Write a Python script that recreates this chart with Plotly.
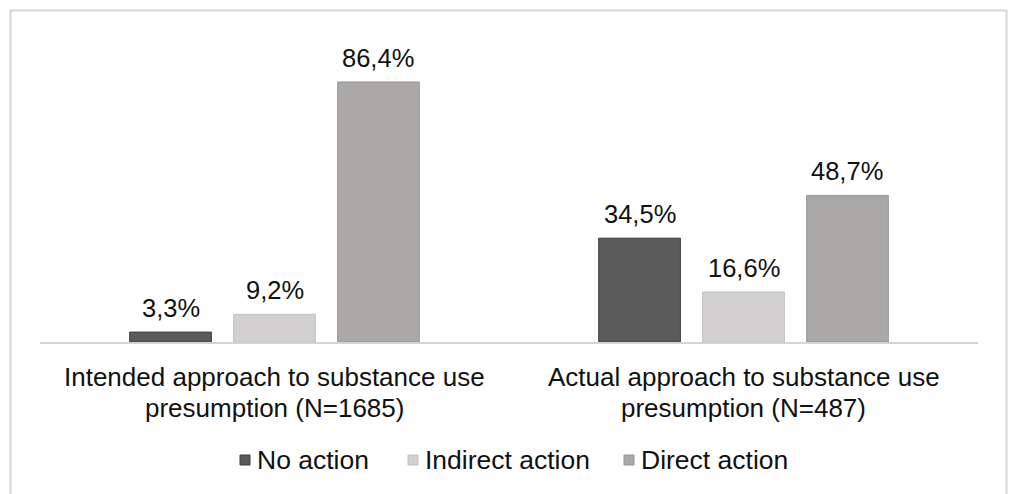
import plotly.graph_objects as go

line1 = ["Intended approach to substance use", "Actual approach to substance use"]
line2 = ["presumption (N=1685)", "presumption (N=487)"]
categories = [a + " " + b for a, b in zip(line1, line2)]
series_names = ["No action", "Indirect action", "Direct action"]
no_action = [3.3, 34.5]
indirect_action = [9.2, 16.6]
direct_action = [86.4, 48.7]

values = [no_action, indirect_action, direct_action]
fills = ["#5b5b5b", "#d2d0d0", "#aba8a8"]
lines = ["#3f3f3f", "#c2c0c0", "#9a9797"]
FONT = "Liberation Sans, Arial"
TXT = "#111111"

W, H = 1011, 494
L, R, T, B = 40, 33, 41, 152
pw, ph = W - L - R, H - T - B
BARGAP, GROUPGAP = 0.335, 0.214

def px(x):
    return (x - L) / pw

def py(y):
    return (H - B - y) / ph

fig = go.Figure()
for name, vals, fc, lc in zip(series_names, values, fills, lines):
    fig.add_trace(go.Bar(
        x=categories, y=vals, name=name, showlegend=False,
        marker=dict(color=fc, line=dict(color=lc, width=1)),
    ))

annotations = []
cat_w = pw / len(categories)
slot = cat_w * (1 - BARGAP) / len(series_names)
for i, vals in enumerate(values):
    off = (i - (len(series_names) - 1) / 2) * slot
    for c, v in zip(categories, vals):
        annotations.append(dict(
            x=c, y=v, xref="x", yref="y", text=f"{v:.1f}%".replace(".", ","),
            showarrow=False, xshift=off, yshift=8, yanchor="bottom",
            font=dict(family=FONT, size=25.5, color=TXT)))

for c, a, b in zip(categories, line1, line2):
    annotations.append(dict(x=c, y=py(377), xref="x", yref="paper", text=a,
                            showarrow=False, yanchor="middle",
                            font=dict(family=FONT, size=26, color=TXT)))
    annotations.append(dict(x=c, y=py(408), xref="x", yref="paper", text=b,
                            showarrow=False, yanchor="middle",
                            font=dict(family=FONT, size=26, color=TXT)))

# legend drawn manually
legend_sq_x = [240, 408, 624]
shapes = [dict(type="rect", xref="paper", yref="paper",
               x0=px(10.5), x1=px(1006.5), y0=py(520), y1=py(10.5),
               line=dict(color="#d6d6d6", width=2), layer="below")]
for name, sx, fc, lc in zip(series_names, legend_sq_x, fills, lines):
    shapes.append(dict(type="rect", xref="paper", yref="paper",
                       x0=px(sx), x1=px(sx + 10), y0=py(465), y1=py(455),
                       fillcolor=fc, line=dict(color=lc, width=1)))
    annotations.append(dict(x=px(sx + 15), y=py(460), xref="paper", yref="paper",
                            text=name, showarrow=False, xanchor="left",
                            yanchor="middle",
                            font=dict(family=FONT, size=26.5, color=TXT)))

fig.update_layout(
    width=W, height=H,
    margin=dict(l=L, r=R, t=T, b=B),
    paper_bgcolor="white", plot_bgcolor="white",
    barmode="group", bargap=BARGAP, bargroupgap=GROUPGAP,
    showlegend=False,
    font=dict(family=FONT, size=25, color=TXT),
    xaxis=dict(showline=True, linecolor="#d4d4d4", linewidth=1.5,
               ticks="", showgrid=False, showticklabels=False),
    yaxis=dict(range=[0, 100], visible=False, showgrid=False),
    shapes=shapes,
    annotations=annotations,
)

fig.write_html("out.html")
